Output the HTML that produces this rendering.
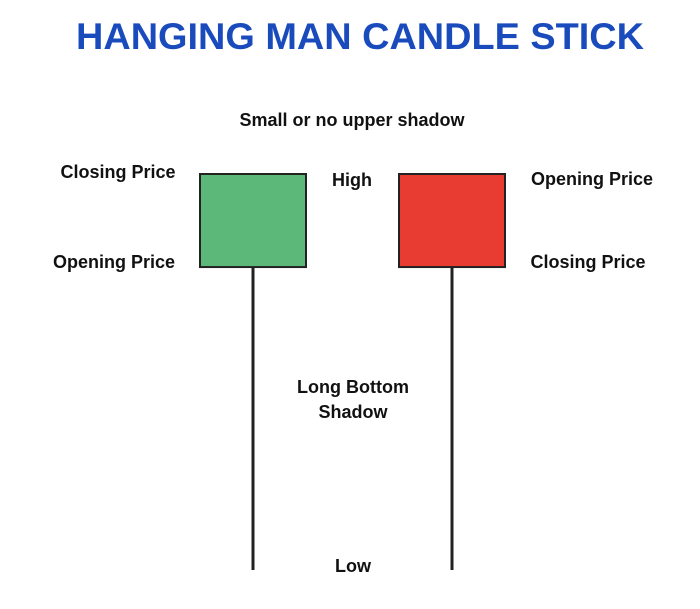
<!DOCTYPE html>
<html><head><meta charset="utf-8"><style>
html,body{margin:0;padding:0;background:#fff;}
svg{display:block;}
text{font-family:"Liberation Sans",sans-serif;font-weight:bold;}
</style></head><body>
<svg id="chart" width="700" height="609" viewBox="0 0 700 609">
<text x="360" y="49" text-anchor="middle" font-size="37" fill="#1a4bbd" textLength="568" lengthAdjust="spacingAndGlyphs">HANGING MAN CANDLE STICK</text>
<text x="352" y="126" text-anchor="middle" font-size="18" fill="#111">Small or no upper shadow</text>
<text x="118" y="178" text-anchor="middle" font-size="18" fill="#111">Closing Price</text>
<text x="114" y="268" text-anchor="middle" font-size="18" fill="#111">Opening Price</text>
<text x="352" y="186" text-anchor="middle" font-size="18" fill="#111">High</text>
<text x="592" y="185" text-anchor="middle" font-size="18" fill="#111">Opening Price</text>
<text x="588" y="268" text-anchor="middle" font-size="18" fill="#111">Closing Price</text>
<text x="353" y="393" text-anchor="middle" font-size="18" fill="#111">Long Bottom</text>
<text x="353" y="418" text-anchor="middle" font-size="18" fill="#111">Shadow</text>
<text x="353" y="572" text-anchor="middle" font-size="18" fill="#111">Low</text>
<g id="marks"></g>
</svg>
<script>
const candleNames = ['bullish', 'bearish'];
const opens = [76.5, 100];
const closes = [100, 76.5];
const highs = [100, 100];
const lows = [0, 0];
const fills = ['#5cb878', '#e83c33'];
const centers = [253, 452];
function y(p){ return 570 - p * (570 - 174) / 100; }
const g = document.getElementById('marks');
const ns = 'http://www.w3.org/2000/svg';
for (let i = 0; i < opens.length; i++) {
  const cx = centers[i];
  const top = y(Math.max(opens[i], closes[i]));
  const bot = y(Math.min(opens[i], closes[i]));
  const wick = document.createElementNS(ns, 'line');
  
  
  wick.setAttribute('x1', cx); wick.setAttribute('x2', cx);
  wick.setAttribute('y1', y(lows[i])); wick.setAttribute('y2', y(highs[i]));
  wick.setAttribute('stroke', '#222'); wick.setAttribute('stroke-width', '3');
  g.appendChild(wick);
  const body = document.createElementNS(ns, 'rect');
  
  
  body.setAttribute('x', cx - 53); body.setAttribute('width', 106);
  body.setAttribute('y', top); body.setAttribute('height', bot - top);
  body.setAttribute('fill', fills[i]); body.setAttribute('stroke', '#222'); body.setAttribute('stroke-width', '2');
  g.appendChild(body);
}
</script>
</body></html>
